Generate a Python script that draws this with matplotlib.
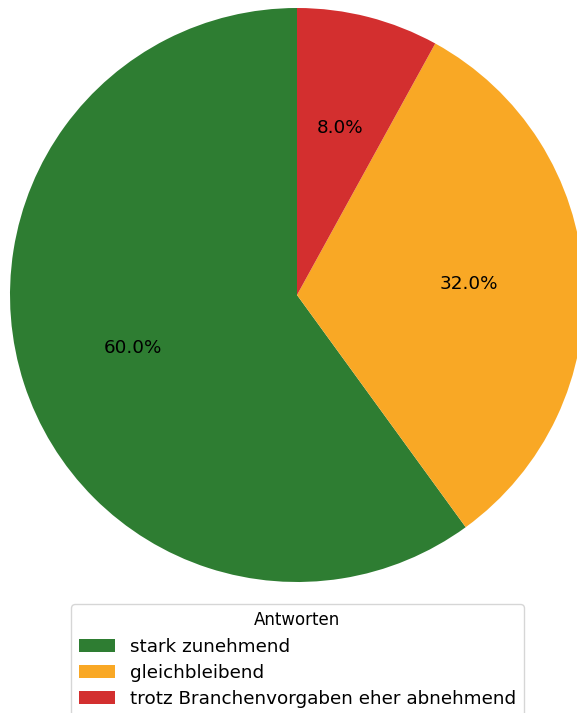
import matplotlib
matplotlib.use("Agg")
import matplotlib.pyplot as plt

labels = ["stark zunehmend", "gleichbleibend", "trotz Branchenvorgaben eher abnehmend"]
values = [60, 32, 8]
colors = ["#2E7D32", "#F9A825", "#D32F2F"]

W, H = 577, 713
fig = plt.figure(figsize=(W / 100, H / 100), dpi=100)
cx, cy, r = 297, 295, 287
ax = fig.add_axes([(cx - r) / W, (H - cy - r) / H, 2 * r / W, 2 * r / H])
wedges, texts, autotexts = ax.pie(values, colors=colors, autopct="%1.1f%%",
                                  startangle=90, textprops={"fontsize": 13.2})
ax.set_xlim(-1, 1)
ax.set_ylim(-1, 1)
ax.set_aspect("equal")

fig.legend(wedges, labels, title="Antworten", loc="upper center",
           bbox_to_anchor=(297.5 / W, 1 - 604 / H), fontsize=13.2,
           title_fontsize=12, borderaxespad=0, labelspacing=0.45)

fig.savefig("out.png", dpi=100)
